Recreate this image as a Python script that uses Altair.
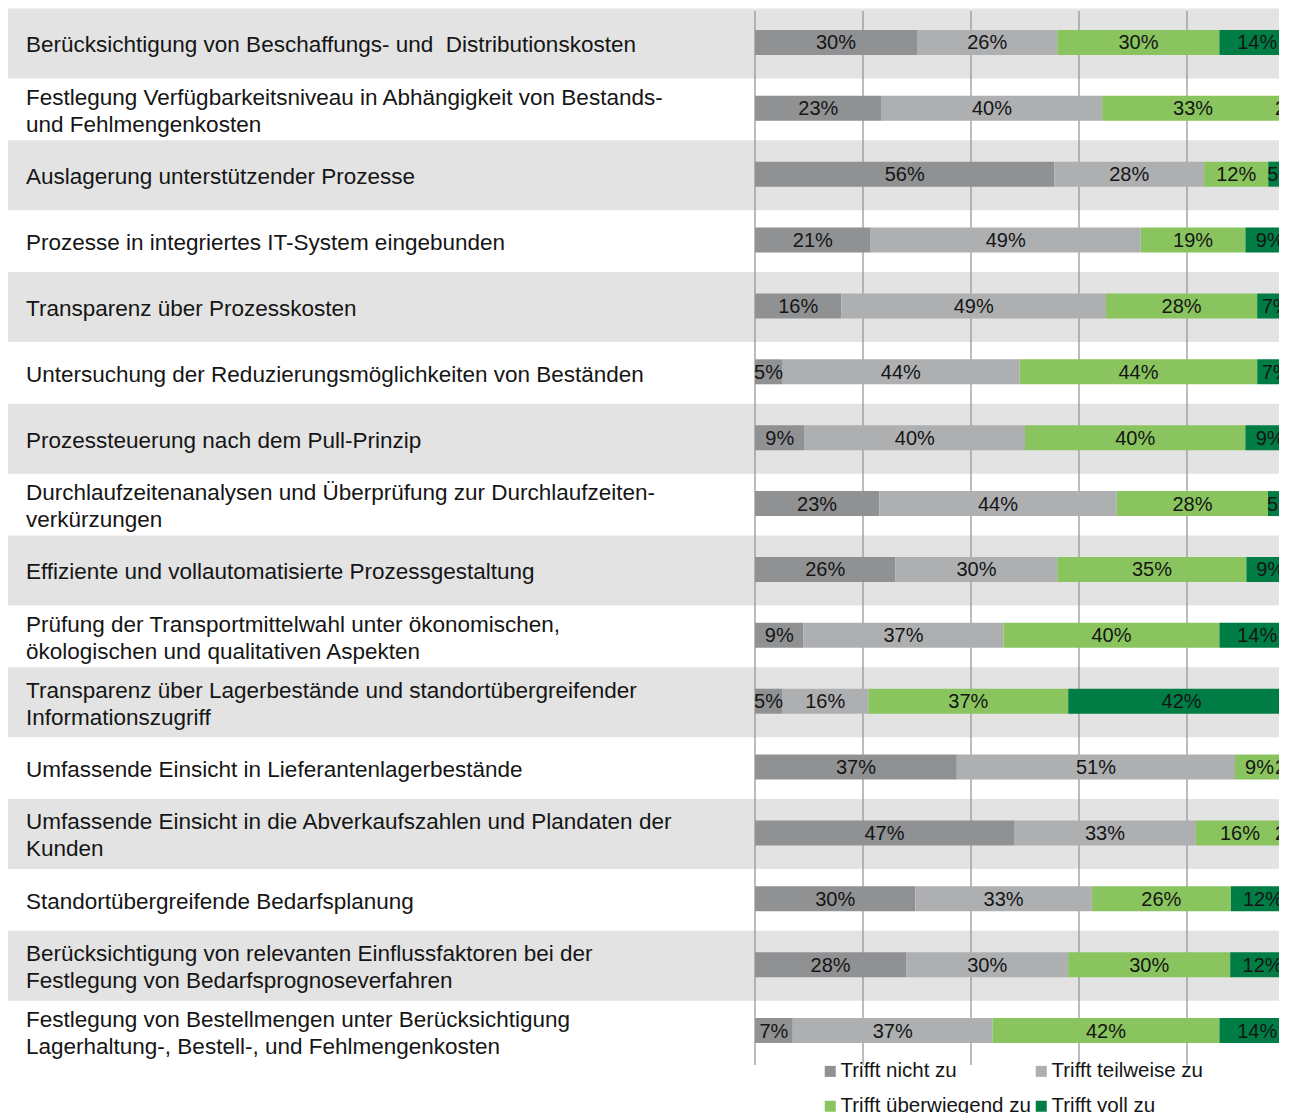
import altair as alt
import pandas as pd

LABELS = [
    "Berücksichtigung von Beschaffungs- und\u00a0 Distributionskosten",
    "Festlegung Verfügbarkeitsniveau in Abhängigkeit von Bestands-\nund Fehlmengenkosten",
    "Auslagerung unterstützender Prozesse",
    "Prozesse in integriertes IT-System eingebunden",
    "Transparenz über Prozesskosten",
    "Untersuchung der Reduzierungsmöglichkeiten von Beständen",
    "Prozessteuerung nach dem Pull-Prinzip",
    "Durchlaufzeitenanalysen und Überprüfung zur Durchlaufzeiten-\nverkürzungen",
    "Effiziente und vollautomatisierte Prozessgestaltung",
    "Prüfung der Transportmittelwahl unter ökonomischen,\nökologischen und qualitativen Aspekten",
    "Transparenz über Lagerbestände und standortübergreifender\nInformationszugriff",
    "Umfassende Einsicht in Lieferantenlagerbestände",
    "Umfassende Einsicht in die Abverkaufszahlen und Plandaten der\nKunden",
    "Standortübergreifende Bedarfsplanung",
    "Berücksichtigung von relevanten Einflussfaktoren bei der\nFestlegung von Bedarfsprognoseverfahren",
    "Festlegung von Bestellmengen unter Berücksichtigung\nLagerhaltung-, Bestell-, und Fehlmengenkosten",
]

CATEGORIES = ["Trifft nicht zu", "Trifft teilweise zu", "Trifft überwiegend zu", "Trifft voll zu"]
COLORS = ["#909193", "#aeafb1", "#89c45e", "#007d45"]

NICHT = [30, 23, 56, 21, 16, 5, 9, 23, 26, 9, 5, 37, 47, 30, 28, 7]
TEILWEISE = [26, 40, 28, 49, 49, 44, 40, 44, 30, 37, 16, 51, 33, 33, 30, 37]
UEBERWIEGEND = [30, 33, 12, 19, 28, 44, 40, 28, 35, 40, 37, 9, 16, 26, 30, 42]
VOLL = [14, 2, 5, 9, 7, 7, 9, 5, 9, 14, 42, 2, 2, 12, 12, 14]

GRID_TICKS = [0, 0.2, 0.4, 0.6, 0.8]

FONT = "Liberation Sans"
W = 1271
H = 1054

rows_df = pd.DataFrame({
    "row": list(range(len(LABELS))),
    "label": LABELS,
    "shade": [1 if i % 2 == 0 else 0 for i in range(len(LABELS))],
    "nlines": [lab.count("\n") + 1 for lab in LABELS],
})

recs = []
for i in range(len(LABELS)):
    for k, series in enumerate([NICHT, TEILWEISE, UEBERWIEGEND, VOLL]):
        recs.append({"row": i, "cat": CATEGORIES[k], "order": k,
                     "value": series[i], "pct": f"{series[i]}%"})
long_df = pd.DataFrame(recs)
grid_df = pd.DataFrame({"t": GRID_TICKS})

x_scale = alt.Scale(domain=[0, 1], range=[747, 1287])
y_enc = alt.Y("row:O", axis=None, scale=alt.Scale(paddingInner=0, paddingOuter=0))

SHIFT = -1.5

bands = alt.Chart(rows_df).transform_filter("datum.shade == 1").mark_bar(
    height=70, yOffset=1 + SHIFT, color="#e3e3e3"
).encode(y=y_enc, x=alt.value(0), x2=alt.value(W))

LINE_H = 27
text_props = dict(align="left", baseline="middle", fontSize=22.5, font=FONT,
                  color="#151515", lineBreak="\n", lineHeight=LINE_H)

row_text_1 = alt.Chart(rows_df).transform_filter("datum.nlines == 1").mark_text(
    dy=3 + SHIFT, **text_props
).encode(y=y_enc, x=alt.value(18), text="label:N")

row_text_2 = alt.Chart(rows_df).transform_filter("datum.nlines == 2").mark_text(
    dy=3 + SHIFT - LINE_H / 2, **text_props
).encode(y=y_enc, x=alt.value(18), text="label:N")

rules = alt.Chart(grid_df).mark_rule(color="#8f8f8f", strokeWidth=1.2).encode(
    x=alt.X("t:Q", scale=x_scale, axis=None), y=alt.value(0), y2=alt.value(H)
)

stacked = alt.Chart(long_df).transform_stack(
    stack="value", groupby=["row"], as_=["x0", "x1"], offset="normalize",
    sort=[alt.SortField(field="order", order="ascending")]
)

bars = stacked.mark_bar(height=25, clip=True, yOffset=SHIFT).encode(
    y=y_enc,
    x=alt.X("x0:Q", scale=x_scale, axis=None),
    x2="x1:Q",
    color=alt.Color(
        "cat:N",
        scale=alt.Scale(domain=CATEGORIES, range=COLORS),
        legend=alt.Legend(
            orient="none", legendX=812, legendY=1050, direction="horizontal",
            columns=2, title=None, labelFontSize=20.5, labelFont=FONT,
            labelColor="#151515", symbolType="square", symbolSize=121,
            symbolStrokeWidth=0, labelOffset=0, columnPadding=0, rowPadding=14,
            labelLimit=400, padding=0, symbolOpacity=1,
        ),
    ),
)

bar_text = stacked.transform_calculate(mid="(datum.x0 + datum.x1) / 2").mark_text(
    clip=True, fontSize=20, font=FONT, color="#151515", baseline="middle",
    dy=1 + SHIFT
).encode(
    y=y_enc,
    x=alt.X("mid:Q", scale=x_scale, axis=None),
    text="pct:N",
)

chart = alt.layer(bands, row_text_1, row_text_2, rules, bars, bar_text).properties(
    width=W, height=H, padding=0
).configure_view(stroke=None)

chart.save("out.html", embed_options={"renderer": "svg", "actions": False})
